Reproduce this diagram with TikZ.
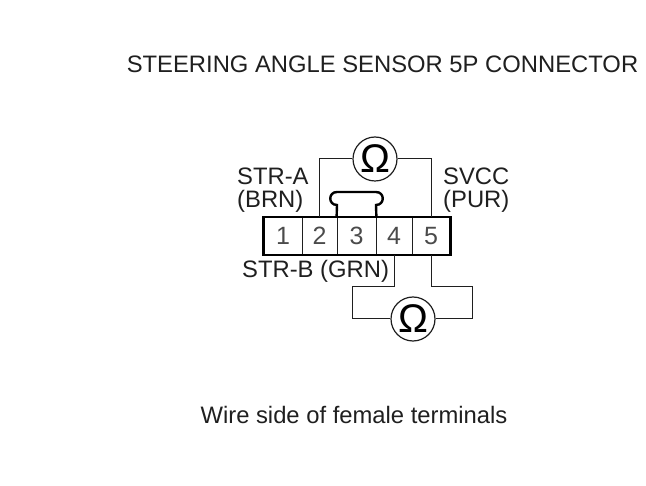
\documentclass[tikz,border=0pt]{standalone}
\usepackage{fontspec}
\setmainfont{Liberation Sans}
\usepackage{xcolor}
\definecolor{inkgray}{gray}{0.12}
\tikzset{
    pincell/.style={draw=inkgray, line width=0.8pt, minimum height=37pt, inner sep=0pt, text height=17pt, text depth=0pt, text=inkgray!80, font=\fontsize{25}{25}\selectfont},
    meter/.style={draw=inkgray, line width=1.2pt, circle, fill=white, minimum size=44pt, inner sep=0pt, font=\fontsize{40}{40}\selectfont},
    wire/.style={draw=inkgray, line width=1pt},
    heavy/.style={draw=black, line width=2.4pt},
    caption/.style={text=inkgray, inner sep=0pt, align=left, font=\fontsize{23.8}{22.5}\selectfont}
}
\begin{document}
\begin{tikzpicture}[x=1pt, y=-1pt]
    \useasboundingbox (0, 0) rectangle (646, 486);

    % Draw connector cells
    \node[pincell, minimum width=38pt] (cella) at (283, 236) {1};
    \node[pincell, minimum width=35pt] (cellb) at (319.5, 236) {2};
    \node[pincell, minimum width=39pt] (cellc) at (356.5, 236) {3};
    \node[pincell, minimum width=36pt] (celld) at (394, 236) {4};
    \node[pincell, minimum width=38pt] (celle) at (431, 236) {5};
    \draw[heavy] (cella.north west) rectangle (celle.south east); % outer frame

    % Lock tab on top of the connector
    \draw[heavy] (cellc.north west) -- (337, 205) .. controls (328, 205) and (328, 192) .. (337, 192)
        -- (376, 192) .. controls (385, 192) and (385, 205) .. (376, 205) -- (cellc.north east);

    % Meters
    \node[meter] (ohmtop) at (375, 159) {Ω};
    \node[meter] (ohmbot) at (413, 319) {Ω};

    % Top meter leads
    \draw[wire] (cellb.north) |- (ohmtop.west);
    \draw[wire] (celle.north) |- (ohmtop.east);

    % Bottom meter leads
    \coordinate (bendl) at (352, 287);
    \coordinate (bendr) at (472, 287);
    \draw[wire] (celld.south) |- (bendl) |- (ohmbot.west);
    \draw[wire] (celle.south) |- (bendr) |- (ohmbot.east);

    % Labels
    \node[caption, anchor=center] (title) at (382.5, 64) {STEERING ANGLE SENSOR 5P CONNECTOR};
    \node[caption, anchor=center] (footer) at (354, 415) {Wire side of female terminals};
    \node[caption, anchor=west] (stra) at (237, 190) {STR-A\\(BRN)};
    \node[caption, anchor=west] (svcc) at (443, 190) {SVCC\\(PUR)};
    \node[caption, anchor=west] (strb) at (242, 271) {STR-B (GRN)};
\end{tikzpicture}
\end{document}
